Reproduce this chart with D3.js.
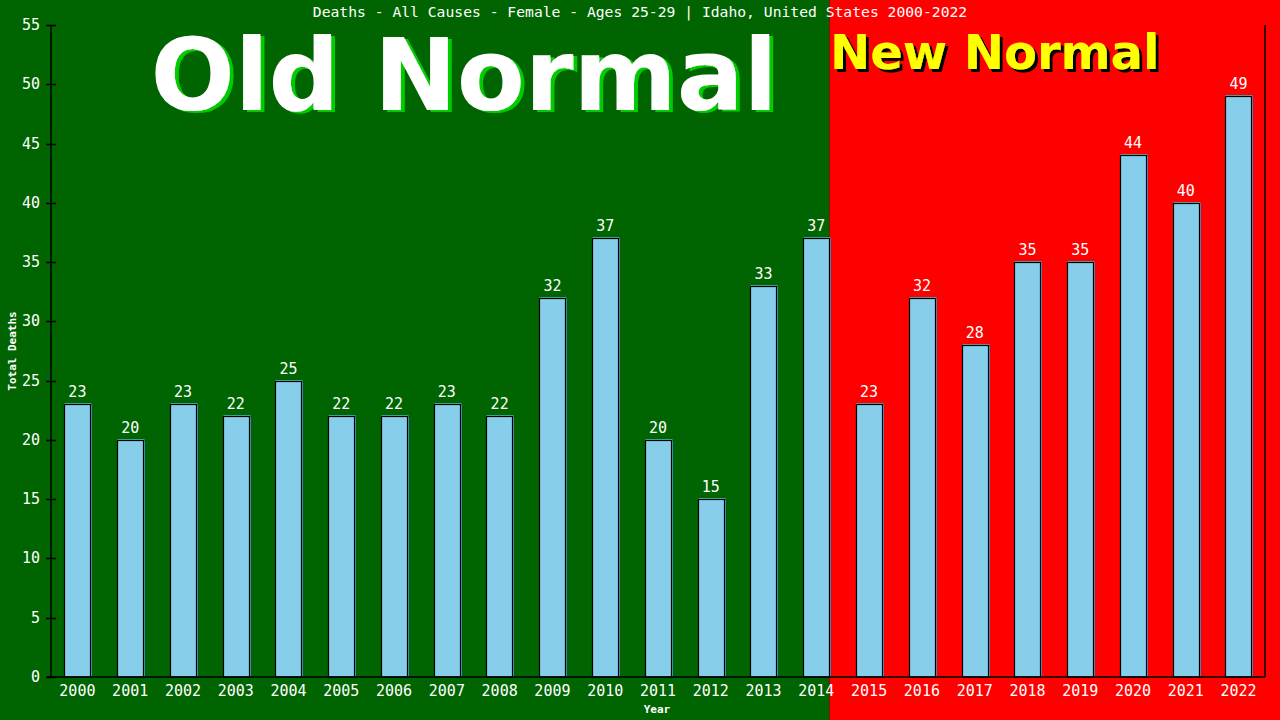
<!DOCTYPE html>
<html><head><meta charset="utf-8">
<script src="https://cdn.jsdelivr.net/npm/d3@7"></script>
<style>body{margin:0;background:#000;}svg{display:block;}</style>
</head><body>
<svg id="c" width="1280" height="720"></svg>
<script>
const years = ["2000","2001","2002","2003","2004","2005","2006","2007","2008","2009","2010","2011","2012","2013","2014","2015","2016","2017","2018","2019","2020","2021","2022"];
const deaths = [23,20,23,22,25,22,22,23,22,32,37,20,15,33,37,23,32,28,35,35,44,40,49];
const yTicks = [0,5,10,15,20,25,30,35,40,45,50,55];
const title = "Deaths - All Causes - Female - Ages 25-29 | Idaho, United States 2000-2022";
const splitYear = "2014";

const W=1280,H=720, L=51, R=1265, T=25, B=677;
const svg=d3.select("#c");
const mono="'DejaVu Sans Mono', monospace";
const x=d3.scaleBand().domain(years).range([L,R]).paddingInner(0.5).paddingOuter(0.25);
const y=d3.scaleLinear().domain([0,55]).range([B,T]);
const splitX = x(splitYear)+x.bandwidth();

const defs=svg.append("defs");
function shadow(id,dx,dy,color){
  const f=defs.append("filter").attr("id",id).attr("x","-5%").attr("y","-20%").attr("width","115%").attr("height","150%");
  f.append("feOffset").attr("in","SourceAlpha").attr("dx",dx).attr("dy",dy).attr("result","off");
  f.append("feFlood").attr("flood-color",color).attr("result","col");
  f.append("feComposite").attr("in","col").attr("in2","off").attr("operator","in").attr("result","sh");
  const m=f.append("feMerge");
  m.append("feMergeNode").attr("in","sh");
  m.append("feMergeNode").attr("in","SourceGraphic");
}
shadow("gs",4,2,"#00cc00");
shadow("ks",3,3,"#000000");

svg.append("rect").attr("x",0).attr("y",0).attr("width",splitX).attr("height",H).attr("fill","#006400");
svg.append("rect").attr("x",splitX).attr("y",0).attr("width",W-splitX).attr("height",H).attr("fill","#ff0000");

// big labels
const big="'DejaVu Sans', Verdana, sans-serif";
svg.append("text").attr("x",464).attr("y",110).attr("text-anchor","middle").attr("font-family",big).attr("font-weight","bold").attr("font-size",99).attr("fill","#ffffff").attr("filter","url(#gs)").text("Old Normal");
svg.append("text").attr("x",830).attr("y",69).attr("font-family",big).attr("font-weight","bold").attr("font-size",48).attr("fill","#ffff00").attr("filter","url(#ks)").text("New Normal");

// title
svg.append("text").attr("x",640).attr("y",17).attr("text-anchor","middle").attr("font-family",mono).attr("font-size",14.7).attr("fill","#fff").text(title);

// bars
const bars=svg.append("g");
years.forEach((yr,i)=>{
  const bx=Math.round(x(yr))+0.5, bw=Math.round(x.bandwidth()), by=Math.round(y(deaths[i]))+0.5;
  bars.append("rect").attr("x",bx).attr("y",by).attr("width",bw).attr("height",B-by).attr("fill","#87ceeb").attr("stroke","#000").attr("stroke-width",1.2);
  bars.append("line").attr("x1",bx+bw+1).attr("x2",bx+bw+1).attr("y1",by).attr("y2",B).attr("stroke","#4682b4").attr("stroke-width",1);
  bars.append("line").attr("x1",bx).attr("x2",bx+bw+1).attr("y1",by-1).attr("y2",by-1).attr("stroke","#4a9a9a").attr("stroke-width",1);
  bars.append("text").attr("x",x(yr)+x.bandwidth()/2).attr("y",y(deaths[i])-7).attr("text-anchor","middle").attr("font-family",mono).attr("font-size",15).attr("fill","#fff").text(deaths[i]);
});

// axes
const ax=svg.append("g").attr("stroke","#000").attr("stroke-width",1.5);
ax.append("line").attr("x1",L).attr("x2",L).attr("y1",T).attr("y2",B);
ax.append("line").attr("x1",R).attr("x2",R).attr("y1",T).attr("y2",B);
ax.append("line").attr("x1",L-5).attr("x2",R).attr("y1",B).attr("y2",B);
yTicks.forEach(t=>{
  ax.append("line").attr("x1",L-5).attr("x2",L+5).attr("y1",Math.round(y(t))+0.5).attr("y2",Math.round(y(t))+0.5);
  svg.append("text").attr("x",40).attr("y",y(t)+5).attr("text-anchor","end").attr("font-family",mono).attr("font-size",15).attr("fill","#fff").text(t);
});
years.forEach(yr=>{
  svg.append("text").attr("x",x(yr)+x.bandwidth()/2).attr("y",696).attr("text-anchor","middle").attr("font-family",mono).attr("font-size",15).attr("fill","#fff").text(yr);
});
svg.append("text").attr("x",657).attr("y",713).attr("text-anchor","middle").attr("font-family",mono).attr("font-weight","bold").attr("font-size",11).attr("fill","#fff").text("Year");
svg.append("text").attr("transform","translate(16,351) rotate(-90)").attr("text-anchor","middle").attr("font-family",mono).attr("font-weight","bold").attr("font-size",11).attr("fill","#fff").text("Total Deaths");
</script>
</body></html>
